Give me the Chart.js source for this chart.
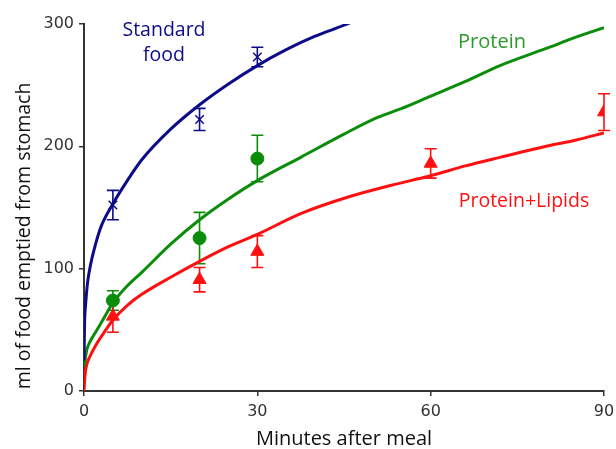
<!DOCTYPE html>
<html>
<head>
<meta charset="utf-8">
<script src="https://cdn.jsdelivr.net/npm/chart.js@4"></script>
<style>
  body { margin: 0; background: #fff; }
  #wrap { width: 616px; height: 449px; }
</style>
</head>
<body>
<div id="wrap"><canvas id="chart"></canvas></div>
<script>
// Fitted curves
const stdCurveX = [0, 0.1, 0.3, 0.6, 1, 2, 3, 5, 7.5, 10, 15, 20, 25, 30, 35, 40, 45, 48];
const stdCurveY = [25, 55, 72, 88, 100, 120, 135, 153, 172, 189, 214, 234, 251, 266, 279, 290, 299, 305];

const protCurveX = [0, 0.5, 1, 2, 3.5, 5, 7.5, 10, 15, 20, 25, 30, 37.5, 45, 51, 55, 60, 66, 72, 80, 85, 90];
const protCurveY = [20, 34, 40, 48, 60, 72, 86, 97, 120, 140, 157, 172, 191, 210, 224, 231, 241, 253, 266, 280, 289, 297];

const lipCurveX = [0, 0.2, 0.5, 1, 2, 3.5, 5, 7.5, 10, 15, 20, 25, 30, 37.5, 46, 53, 60, 66, 72, 80, 85, 90];
const lipCurveY = [0, 14, 22, 28, 37, 48, 58, 70, 79, 93, 106, 118, 128, 145, 159, 168, 176, 184, 191, 200, 205, 211];

// Measured means and error bars
const stdTimes = [5, 20, 30];
const stdMeans = [152, 222, 273];
const stdErr = [12, 9, 8];

const protTimes = [5, 20, 30];
const protMeans = [74, 125, 190];
const protErr = [8, 21, 19];

const lipTimes = [5, 20, 30, 60, 90];
const lipMeans = [61, 91, 114, 186, 228];
const lipErr = [13, 10, 13, 12, 15];

const xTicks = [0, 30, 60, 90];
const yTicks = [0, 100, 200, 300];

const NAVY = '#0c0c8a';
const GREEN = '#0b8c0b';
const RED = '#ff1010';

function pairs(xs, ys) {
  return xs.map((x, i) => ({ x: x, y: ys[i] }));
}

function curve(xs, ys, color) {
  return {
    data: pairs(xs, ys),
    showLine: true,
    borderColor: color,
    borderWidth: 3,
    pointRadius: 0,
    cubicInterpolationMode: 'monotone',
    fill: false
  };
}

function points(xs, ys, errs, color, style, radius) {
  return {
    data: pairs(xs, ys),
    errors: errs,
    showLine: false,
    pointStyle: style,
    pointRadius: radius,
    pointBackgroundColor: color,
    pointBorderColor: color,
    pointBorderWidth: style === 'crossRot' ? 1.5 : 1,
    errColor: color
  };
}

// draws vertical error bars with caps under the markers
const errorBars = {
  id: 'errorBars',
  beforeDatasetsDraw(chart) {
    const ctx = chart.ctx;
    const xs = chart.scales.x, ys = chart.scales.y;
    chart.data.datasets.forEach(ds => {
      if (!ds.errors) return;
      ctx.save();
      ctx.strokeStyle = ds.errColor;
      ctx.lineWidth = 1.6;
      ds.data.forEach((p, i) => {
        const px = xs.getPixelForValue(p.x);
        const top = ys.getPixelForValue(p.y + ds.errors[i]);
        const bot = ys.getPixelForValue(p.y - ds.errors[i]);
        ctx.beginPath();
        ctx.moveTo(px, top); ctx.lineTo(px, bot);
        ctx.moveTo(px - 6, top); ctx.lineTo(px + 6, top);
        ctx.moveTo(px - 6, bot); ctx.lineTo(px + 6, bot);
        ctx.stroke();
      });
      ctx.restore();
    });
  }
};

// series names and the y title
const labels = {
  id: 'labels',
  afterDraw(chart) {
    const ctx = chart.ctx;
    ctx.save();
    ctx.textAlign = 'center';
    ctx.textBaseline = 'middle';
    ctx.font = '19.5px "Open Sans"';
    ctx.fillStyle = NAVY;
    ctx.fillText('Standard', 164, 30);
    ctx.fillText('food', 164, 55);
    ctx.fillStyle = '#2a9a2a';
    ctx.font = '20px "Open Sans"';
    ctx.fillText('Protein', 492, 42);
    ctx.fillStyle = RED;
    ctx.font = '19.5px "Open Sans"';
    ctx.fillText('Protein+Lipids', 524, 201);

    ctx.translate(24, 236);
    ctx.rotate(-Math.PI / 2);
    ctx.fillStyle = '#111';
    ctx.font = '19.5px "Open Sans"';
    ctx.fillText('ml of food emptied from stomach', 0, 0);
    ctx.restore();
  }
};

new Chart(document.getElementById('chart'), {
  type: 'scatter',
  data: {
    datasets: [
      curve(stdCurveX, stdCurveY, NAVY),
      curve(protCurveX, protCurveY, GREEN),
      curve(lipCurveX, lipCurveY, RED),
      points(stdTimes, stdMeans, stdErr, NAVY, 'crossRot', 6),
      points(protTimes, protMeans, protErr, GREEN, 'circle', 6.5),
      points(lipTimes, lipMeans, lipErr, RED, 'triangle', 7.5)
    ]
  },
  options: {
    responsive: true,
    maintainAspectRatio: false,
    animation: false,
    layout: { padding: { left: 0, right: 0, top: 24, bottom: 0 } },
    plugins: { legend: { display: false }, tooltip: { enabled: false } },
    scales: {
      x: {
        type: 'linear',
        min: 0,
        max: 90,
        afterFit: s => { s.height = 58; s.paddingLeft = 0; s.paddingRight = 12; },
        afterBuildTicks: s => { s.ticks = xTicks.map(v => ({ value: v })); },
        grid: { display: true, drawOnChartArea: false, drawTicks: true, tickLength: 5, color: '#333', lineWidth: 1.5 },
        border: { display: true, color: '#333', width: 2 },
        ticks: { color: '#333', padding: 6, font: { family: 'DejaVu Sans', size: 16 } },
        title: {
          display: true,
          text: 'Minutes after meal',
          color: '#111',
          font: { family: 'Open Sans', size: 20, lineHeight: 1 },
          padding: { top: 0, bottom: 0 }
        }
      },
      y: {
        min: 0,
        max: 300,
        afterFit: s => { s.width = 84; },
        afterBuildTicks: s => { s.ticks = yTicks.map(v => ({ value: v })); },
        grid: { display: true, drawOnChartArea: false, drawTicks: true, tickLength: 5, color: '#333', lineWidth: 1.5 },
        border: { display: true, color: '#333', width: 2 },
        ticks: { color: '#333', padding: 5, font: { family: 'DejaVu Sans', size: 16 } }
      }
    }
  },
  plugins: [errorBars, labels]
});
</script>
</body>
</html>
